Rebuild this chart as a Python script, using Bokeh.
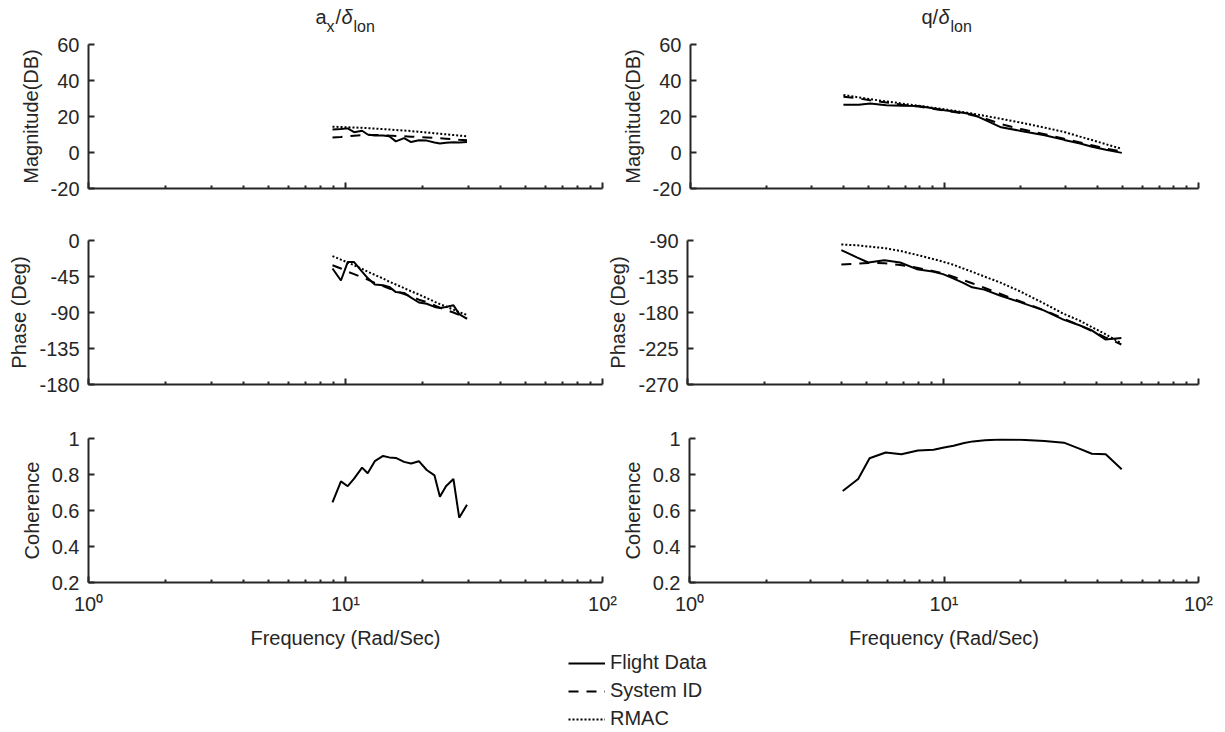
from bokeh.plotting import figure
from bokeh.layouts import column, row
from bokeh.models import (FixedTicker, CustomJSTickFormatter, Label, Legend,
                          LegendItem, Range1d)
from bokeh.embed import file_html
from bokeh.resources import INLINE

# ---------------- data ----------------
# a_x / delta_lon
freq_ax = [8.9, 9.6, 10.2, 10.8, 11.6, 12.2, 13.0, 14.0, 14.8, 15.7,
           16.9, 18.0, 19.3, 20.7, 22.2, 23.3, 24.6, 26.3, 27.7, 29.7]
mag_ax_flight = [12.8, 13.0, 13.4, 11.3, 12.1, 10.0, 9.5, 9.5, 9.0, 6.2,
                 8.0, 5.8, 6.8, 6.6, 5.6, 5.0, 5.4, 5.7, 5.6, 5.8]
mag_ax_sysid = [8.3, 8.6, 9.0, 9.3, 9.6, 9.7, 9.7, 9.6, 9.4, 9.2,
                9.0, 8.8, 8.6, 8.4, 8.1, 7.9, 7.7, 7.4, 7.1, 6.8]
mag_ax_rmac = [14.3, 14.2, 14.0, 13.9, 13.7, 13.5, 13.3, 13.0, 12.8, 12.5,
               12.2, 11.9, 11.5, 11.1, 10.7, 10.4, 10.1, 9.7, 9.4, 9.0]
ph_ax_flight = [-35, -50, -27, -27, -39, -47, -55, -56, -58, -64.5,
                -65.5, -71.5, -77.5, -79, -83, -84.5, -83, -81, -92, -98]
ph_ax_sysid = [-31, -35, -39, -42, -46, -49, -53, -57, -60, -63,
               -67, -70, -74, -77, -81, -84, -87, -90, -93, -97]
ph_ax_rmac = [-19.5, -24, -27.5, -31, -35.5, -39, -43, -47.5, -51.5, -55,
              -59.5, -63.5, -67.5, -72, -76.5, -79.5, -82.5, -86.5, -89.5, -93]
coh_ax = [0.645, 0.762, 0.735, 0.777, 0.838, 0.807, 0.874, 0.903, 0.895, 0.892,
          0.870, 0.861, 0.874, 0.825, 0.795, 0.676, 0.735, 0.775, 0.560, 0.632]

# q / delta_lon
freq_q = [4.0, 4.6, 5.1, 5.9, 6.8, 7.9, 9.1, 10.0, 10.9, 12.0,
          13.0, 14.5, 16.7, 20.0, 24.8, 29.6, 34.2, 38.1, 43.2, 49.9]
mag_q_flight = [26.5, 26.5, 27.2, 26.3, 26.0, 25.8, 24.5, 23.5, 22.8, 22.0,
                21.0, 18.0, 14.0, 12.0, 9.6, 7.0, 5.0, 3.2, 1.5, -0.2]
mag_q_sysid = [31.0, 30.0, 29.0, 27.8, 26.6, 25.5, 24.2, 23.3, 22.5, 21.6,
               20.6, 18.8, 15.8, 13.0, 10.2, 7.6, 5.6, 4.0, 2.2, 0.5]
mag_q_rmac = [32.0, 30.6, 29.6, 28.4, 27.2, 26.0, 24.8, 24.0, 23.2, 22.3,
              21.5, 20.3, 18.7, 16.6, 13.8, 11.4, 8.8, 6.9, 4.6, 2.0]
ph_q_flight = [-102, -111, -117.5, -114.7, -117.5, -125.8, -128.7, -132, -137, -143,
               -148.5, -151.4, -158.8, -167, -177.3, -188.9, -195.9, -202, -213.6, -212]
ph_q_sysid = [-120, -119, -118, -118.5, -120.5, -124, -128, -131, -135, -139.5,
              -143.5, -149, -156.5, -166, -177, -187.5, -196, -203, -211, -220]
ph_q_rmac = [-95, -96, -97.5, -99.5, -103, -108, -113, -116.5, -120, -125,
             -129, -135, -142.3, -153.5, -168.5, -181.5, -190, -198, -207, -218.5]
coh_q = [0.708, 0.775, 0.890, 0.922, 0.912, 0.933, 0.938, 0.950, 0.960, 0.975,
         0.984, 0.990, 0.995, 0.993, 0.986, 0.977, 0.942, 0.915, 0.912, 0.829]

x_major_ticks = [1, 10, 100]
x_minor_ticks = [2, 3, 4, 5, 6, 7, 8, 9, 20, 30, 40, 50, 60, 70, 80, 90]
mag_ticks = [-20, 0, 20, 40, 60]
ph_ax_ticks = [-180, -135, -90, -45, 0]
ph_q_ticks = [-270, -225, -180, -135, -90]
coh_ticks = [0.2, 0.4, 0.6, 0.8, 1.0]
series_names = ["Flight Data", "System ID", "RMAC"]

# ---------------- styling ----------------
FONT = "Liberation Sans"
AXC = "#262626"
FS = "20px"
STYLES = {"Flight Data": dict(line_dash="solid"),
          "System ID": dict(line_dash="10 8"),
          "RMAC": dict(line_dash="2 2")}


def panel(width, height, bl, br, bt, bb, yr, yticks, ylabel, xlabels):
    p = figure(width=width, height=height, x_axis_type="log",
               x_range=Range1d(1, 100), y_range=Range1d(yr[0], yr[1]),
               output_backend="svg", toolbar_location=None,
               min_border_left=bl, min_border_right=br,
               min_border_top=bt, min_border_bottom=bb)
    p.outline_line_color = None
    p.xgrid.visible = False
    p.ygrid.visible = False
    for ax in (p.xaxis[0], p.yaxis[0]):
        ax.axis_line_width = 2
        ax.axis_line_color = AXC
        ax.major_tick_line_color = AXC
        ax.major_tick_line_width = 2
        ax.major_tick_in = 6
        ax.major_tick_out = 0
        ax.minor_tick_line_color = AXC
        ax.minor_tick_line_width = 2
        ax.minor_tick_in = 3
        ax.minor_tick_out = 0
        ax.major_label_text_font = FONT
        ax.major_label_text_font_size = FS
        ax.major_label_text_color = AXC
        ax.axis_label_text_font = FONT
        ax.axis_label_text_font_size = FS
        ax.axis_label_text_font_style = "normal"
        ax.axis_label_text_color = AXC
    xa = p.xaxis[0]
    xa.ticker = FixedTicker(ticks=x_major_ticks, minor_ticks=x_minor_ticks)
    if xlabels:
        xa.formatter = CustomJSTickFormatter(
            code="if (tick < 5) { return '10\u2070'; } if (tick < 50) { return '10\u00b9'; } return '10\u00b2';")
        xa.axis_label = "Frequency (Rad/Sec)"
        xa.major_label_standoff = 10
        xa.axis_label_standoff = 9
    else:
        xa.formatter = CustomJSTickFormatter(code="return '';")
        xa.major_label_standoff = 0
    ya = p.yaxis[0]
    ya.ticker = FixedTicker(ticks=yticks)
    ya.minor_tick_line_color = None
    ya.formatter = CustomJSTickFormatter(code="return String(Math.round(tick * 10) / 10);")
    ya.axis_label = ylabel
    ya.major_label_standoff = 9
    ya.axis_label_standoff = 6
    return p


def draw(p, f, ys):
    for name, y in zip(series_names, ys):
        p.line(f, y, line_color="black", line_width=2, **STYLES[name])


def strip(height):
    s = figure(width=1225, height=height, x_range=Range1d(0, 1), y_range=Range1d(0, 1),
               output_backend="svg", toolbar_location=None,
               x_axis_location=None, y_axis_location=None, min_border=0)
    s.outline_line_color = None
    s.xgrid.visible = False
    s.ygrid.visible = False
    return s


# ---- title strip ----
tstrip = strip(34)
title_parts = [
    ("a", 315, 18, "20px", "normal"), ("x", 326, 8, "16px", "normal"),
    ("/", 335, 18, "20px", "normal"), ("\u03b4", 341, 18, "20px", "italic"),
    ("lon", 353, 8, "16px", "normal"),
    ("q", 921, 18, "20px", "normal"), ("/", 932, 18, "20px", "normal"),
    ("\u03b4", 938, 18, "20px", "italic"), ("lon", 950, 8, "16px", "normal"),
]
for txt, x, y, size, style in title_parts:
    tstrip.add_layout(Label(x=x, y=y, x_units="screen", y_units="screen", text=txt,
                            text_font=FONT, text_font_size=size, text_font_style=style,
                            text_color=AXC, text_baseline="alphabetic", text_align="left"))

# row 1 : magnitude
m_l = panel(618, 180, 88, 16, 10, 26, (-20, 60), mag_ticks, "Magnitude(DB)", False)
m_r = panel(607, 180, 68, 27, 10, 26, (-20, 60), mag_ticks, "Magnitude(DB)", False)
draw(m_l, freq_ax, [mag_ax_flight, mag_ax_sysid, mag_ax_rmac])
draw(m_r, freq_q, [mag_q_flight, mag_q_sysid, mag_q_rmac])

# row 2 : phase
p_l = panel(604, 196, 88, 2, 26, 26, (-180, 0), ph_ax_ticks, "Phase (Deg)", False)
p_r = panel(621, 196, 82, 27, 26, 26, (-270, -90), ph_q_ticks, "Phase (Deg)", False)
draw(p_l, freq_ax, [ph_ax_flight, ph_ax_sysid, ph_ax_rmac])
draw(p_r, freq_q, [ph_q_flight, ph_q_sysid, ph_q_rmac])

# row 3 : coherence
c_l = panel(618, 242, 88, 16, 28, 70, (0.2, 1.0), coh_ticks, "Coherence", True)
c_r = panel(607, 242, 68, 27, 28, 70, (0.2, 1.0), coh_ticks, "Coherence", True)
c_l.line(freq_ax, coh_ax, line_color="black", line_width=2)
c_r.line(freq_q, coh_q, line_color="black", line_width=2)

# ---- legend strip (sample lines reuse the data series, which fall
#      outside this strip's 0..1 ranges, so only the legend glyphs show) ----
lg = strip(80)
legend_sources = [mag_ax_flight, mag_ax_sysid, mag_ax_rmac]
items = []
for name, ys in zip(series_names, legend_sources):
    r = lg.line(x=freq_ax, y=ys, line_color="black", line_width=2, **STYLES[name])
    items.append(LegendItem(label=name, renderers=[r]))
legend = Legend(items=items, location=(568, 2), orientation="vertical",
                padding=0, margin=0, spacing=5, glyph_width=37, glyph_height=22,
                label_height=22, label_standoff=5, label_text_font=FONT,
                label_text_font_size=FS, label_text_color=AXC,
                border_line_color=None, background_fill_alpha=0)
lg.add_layout(legend)

layout = column(tstrip, row(m_l, m_r), row(p_l, p_r), row(c_l, c_r), lg)

with open("out.html", "w", encoding="utf-8") as fh:
    fh.write(file_html(layout, INLINE))
